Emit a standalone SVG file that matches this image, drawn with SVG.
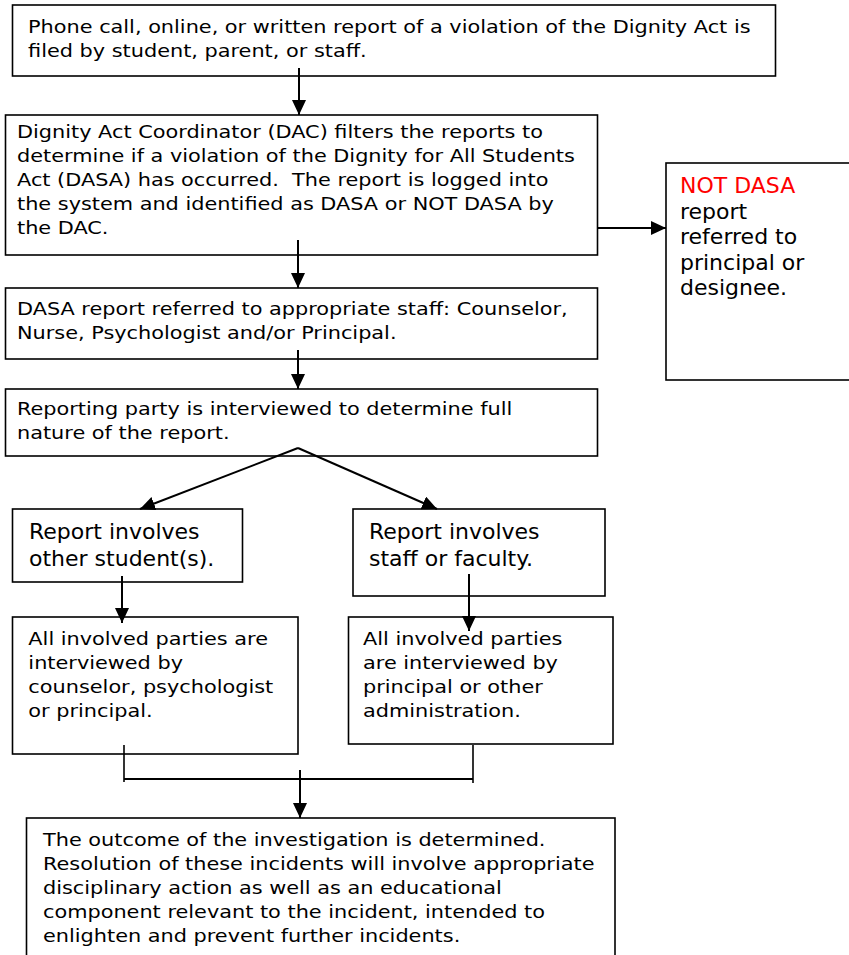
<svg xmlns="http://www.w3.org/2000/svg" width="849" height="955" viewBox="0 0 849 955">
<style>
  .box { fill: #ffffff; stroke: #000000; stroke-width: 1.6; }
  .t { font-family: "DejaVu Sans", Verdana, sans-serif; font-size: 18.5px; fill: #000000; }
  .tb { font-family: "DejaVu Sans", Verdana, sans-serif; font-size: 22px; fill: #000000; }
  .red { fill: #ff0000; }
  .ln { fill: none; stroke: #000000; stroke-width: 2; }
  .br { fill: none; stroke: #000000; stroke-width: 1.6; }
</style>
<defs>
  <marker id="ah" viewBox="0 0 15 14" refX="15" refY="7" markerWidth="15" markerHeight="14" markerUnits="userSpaceOnUse" orient="auto" preserveAspectRatio="none">
    <path d="M0,0 L15,7 L0,14 z" fill="#000000"/>
  </marker>
</defs>
<rect x="0" y="0" width="849" height="955" fill="#ffffff"/>

<g id="n1">
  <rect class="box" x="12.5" y="5" width="763" height="71" stroke-width="2"/>
  <g transform="scale(1.126,1)">
    <text class="t" x="24.9" y="33">Phone call, online, or written report of a violation of the Dignity Act is</text>
    <text class="t" x="24.9" y="57">filed by student, parent, or staff.</text>
  </g>
</g>

<g id="n2">
  <rect class="box" x="5.5" y="115" width="592" height="140"/>
  <g transform="scale(1.126,1)">
    <text class="t" x="15.1" y="138">Dignity Act Coordinator (DAC) filters the reports to</text>
    <text class="t" x="15.1" y="162">determine if a violation of the Dignity for All Students</text>
    <text class="t" x="15.1" y="186" xml:space="preserve">Act (DASA) has occurred.  The report is logged into</text>
    <text class="t" x="15.1" y="210">the system and identified as DASA or NOT DASA by</text>
    <text class="t" x="15.1" y="234">the DAC.</text>
  </g>
</g>

<g id="n3">
  <rect class="box" x="666" y="163" width="200" height="217"/>
  <text class="tb red" x="680" y="193">NOT DASA</text>
  <text class="tb" x="680" y="218.5">report</text>
  <text class="tb" x="680" y="244">referred to</text>
  <text class="tb" x="680" y="269.5">principal or</text>
  <text class="tb" x="680" y="295">designee.</text>
</g>

<g id="n4">
  <rect class="box" x="5.5" y="288" width="592" height="71"/>
  <g transform="scale(1.126,1)">
    <text class="t" x="15.1" y="315">DASA report referred to appropriate staff: Counselor,</text>
    <text class="t" x="15.1" y="339">Nurse, Psychologist and/or Principal.</text>
  </g>
</g>

<g id="n5">
  <rect class="box" x="5.5" y="389" width="592" height="67"/>
  <g transform="scale(1.126,1)">
    <text class="t" x="15.1" y="415">Reporting party is interviewed to determine full</text>
    <text class="t" x="15.1" y="439">nature of the report.</text>
  </g>
</g>

<g id="n6">
  <rect class="box" x="12.5" y="509" width="230" height="73"/>
  <text class="tb" x="29" y="539">Report involves</text>
  <text class="tb" x="29" y="566">other student(s).</text>
</g>

<g id="n7">
  <rect class="box" x="353" y="509" width="252" height="87"/>
  <text class="tb" x="369" y="539">Report involves</text>
  <text class="tb" x="369" y="566">staff or faculty.</text>
</g>

<g id="n8">
  <rect class="box" x="12.5" y="617" width="285.5" height="137"/>
  <g transform="scale(1.126,1)">
    <text class="t" x="25.2" y="645">All involved parties are</text>
    <text class="t" x="25.2" y="669">interviewed by</text>
    <text class="t" x="25.2" y="693">counselor, psychologist</text>
    <text class="t" x="25.2" y="717">or principal.</text>
  </g>
</g>

<g id="n9">
  <rect class="box" x="348.5" y="617" width="264.5" height="127"/>
  <g transform="scale(1.126,1)">
    <text class="t" x="322.4" y="645">All involved parties</text>
    <text class="t" x="322.4" y="669">are interviewed by</text>
    <text class="t" x="322.4" y="693">principal or other</text>
    <text class="t" x="322.4" y="717">administration.</text>
  </g>
</g>

<g id="n10">
  <rect class="box" x="26.5" y="818" width="588.5" height="150"/>
  <g transform="scale(1.126,1)">
    <text class="t" x="38.2" y="846">The outcome of the investigation is determined.</text>
    <text class="t" x="38.2" y="870">Resolution of these incidents will involve appropriate</text>
    <text class="t" x="38.2" y="894">disciplinary action as well as an educational</text>
    <text class="t" x="38.2" y="918">component relevant to the incident, intended to</text>
    <text class="t" x="38.2" y="942">enlighten and prevent further incidents.</text>
  </g>
</g>

<g id="connectors">
  <line class="ln" x1="299" y1="68" x2="299" y2="115" marker-end="url(#ah)"/>
  <line class="ln" x1="598" y1="228" x2="666" y2="228" marker-end="url(#ah)"/>
  <line class="ln" x1="298" y1="240" x2="298" y2="288" marker-end="url(#ah)"/>
  <line class="ln" x1="298" y1="350" x2="298" y2="389" marker-end="url(#ah)"/>
  <line class="ln" x1="298" y1="448" x2="140" y2="509" marker-end="url(#ah)"/>
  <line class="ln" x1="298" y1="448" x2="437" y2="509" marker-end="url(#ah)"/>
  <line class="ln" x1="122" y1="576" x2="122" y2="623" marker-end="url(#ah)"/>
  <line class="ln" x1="469" y1="574" x2="469" y2="631" marker-end="url(#ah)"/>
  <line class="br" x1="124" y1="745" x2="124" y2="782"/>
  <line class="ln" x1="124" y1="779" x2="473" y2="779"/>
  <line class="br" x1="473" y1="745" x2="473" y2="783"/>
  <line class="ln" x1="300" y1="770" x2="300" y2="818" marker-end="url(#ah)"/>
</g>
</svg>
